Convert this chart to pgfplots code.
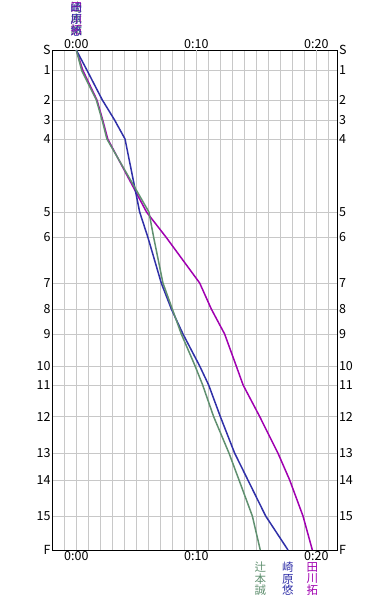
\documentclass[border=0pt]{standalone}
\usepackage{fontspec}
\setmainfont{Noto Sans CJK JP}
\usepackage{pgfplots}
\pgfplotsset{compat=1.18}
\definecolor{cgreen}{RGB}{96,144,112}
\definecolor{cblue}{RGB}{48,48,168}
\definecolor{cpurple}{RGB}{160,0,176}
\definecolor{gridlight}{RGB}{200,200,200}
\definecolor{griddark}{RGB}{160,160,160}
\begin{document}
\begin{tikzpicture}
\useasboundingbox (-52.3pt,-50pt) rectangle (337.7pt,550pt);
\pgfplotsset{base/.style={
  x=12pt, y=1pt, scale only axis,
  xmin=-2, xmax=21.75, ymin=-500, ymax=0,
  ytick={0,-20.5,-50,-70,-89,-162,-187.5,-233,-259,-284,-316,-335,-366.5,-403,-430,-466,-500},
  yticklabels={S,1,2,3,4,5,6,7,8,9,10,11,12,13,14,15,F},
  major tick length=0pt, minor tick length=0pt,
  tick label style={font=\fontsize{12.5}{12.5}\selectfont},
  yticklabel style={inner sep=1.5pt},
  xticklabel style={inner sep=1pt},
}}
\begin{axis}[base, clip=false,
  axis line style={black, line width=0.8pt},
  xtick={-1,1,2,3,4,5,6,7,8,9,11,12,13,14,15,16,17,18,19,21},
  xticklabels={},
  extra x ticks={0,10,20},
  extra x tick labels={0:00,0:10,0:20},
  extra x tick style={grid style={griddark, line width=0.8pt}},
  grid=major,
  major grid style={gridlight, line width=0.8pt},
]
\addplot[cpurple, line width=1.5pt] coordinates {
(0,0) (0.55,-20.5) (1.72,-50) (2.2,-70) (2.62,-89) (5.85,-162) (7.5,-187.5)
(10.28,-233) (11.25,-259) (12.36,-284) (13.33,-316) (13.9,-335) (15.28,-366.5)
(16.8,-403) (17.78,-430) (18.89,-466) (19.67,-500)};
\addplot[cblue, line width=1.5pt] coordinates {
(0,0) (0.9,-20.5) (2.17,-50) (3.19,-70) (4.06,-89) (5.28,-162) (5.97,-187.5)
(7.08,-233) (7.92,-259) (8.89,-284) (10.28,-316) (11.03,-335) (12.0,-366.5)
(13.19,-403) (14.3,-430) (15.78,-466) (17.64,-500)};
\addplot[cgreen, line width=1.5pt] coordinates {
(0,0) (0.45,-20.5) (1.67,-50) (2.15,-70) (2.55,-89) (6.05,-162) (6.45,-187.5)
(7.22,-233) (8.0,-259) (8.75,-284) (9.9,-316) (10.53,-335) (11.44,-366.5)
(12.72,-403) (13.56,-430) (14.67,-466) (15.33,-500)};
\begin{scope}[every node/.style={align=center, inner sep=0pt, font=\fontsize{11.5}{11.5}\selectfont}]
\node[cgreen, anchor=south] at (axis cs:0,0) [yshift=14pt] {辻\\本\\誠};
\node[cpurple, anchor=south] at (axis cs:0,0) [yshift=14pt] {田\\川\\拓};
\node[cblue, anchor=south] at (axis cs:0,0) [yshift=14pt] {崎\\原\\悠};
\node[cgreen, anchor=north] at (axis cs:15.33,-500) [yshift=-12pt] {辻\\本\\誠};
\node[cblue, anchor=north] at (axis cs:17.64,-500) [yshift=-12pt] {崎\\原\\悠};
\node[cpurple, anchor=north] at (axis cs:19.67,-500) [yshift=-12pt] {田\\川\\拓};
\end{scope}
\end{axis}
\begin{axis}[base,
  axis line style={draw=none},
  xtick={0,10,20},
  xticklabels={0:00,0:10,0:20},
  xticklabel pos=right, yticklabel pos=right,
]
\end{axis}
\end{tikzpicture}
\end{document}
